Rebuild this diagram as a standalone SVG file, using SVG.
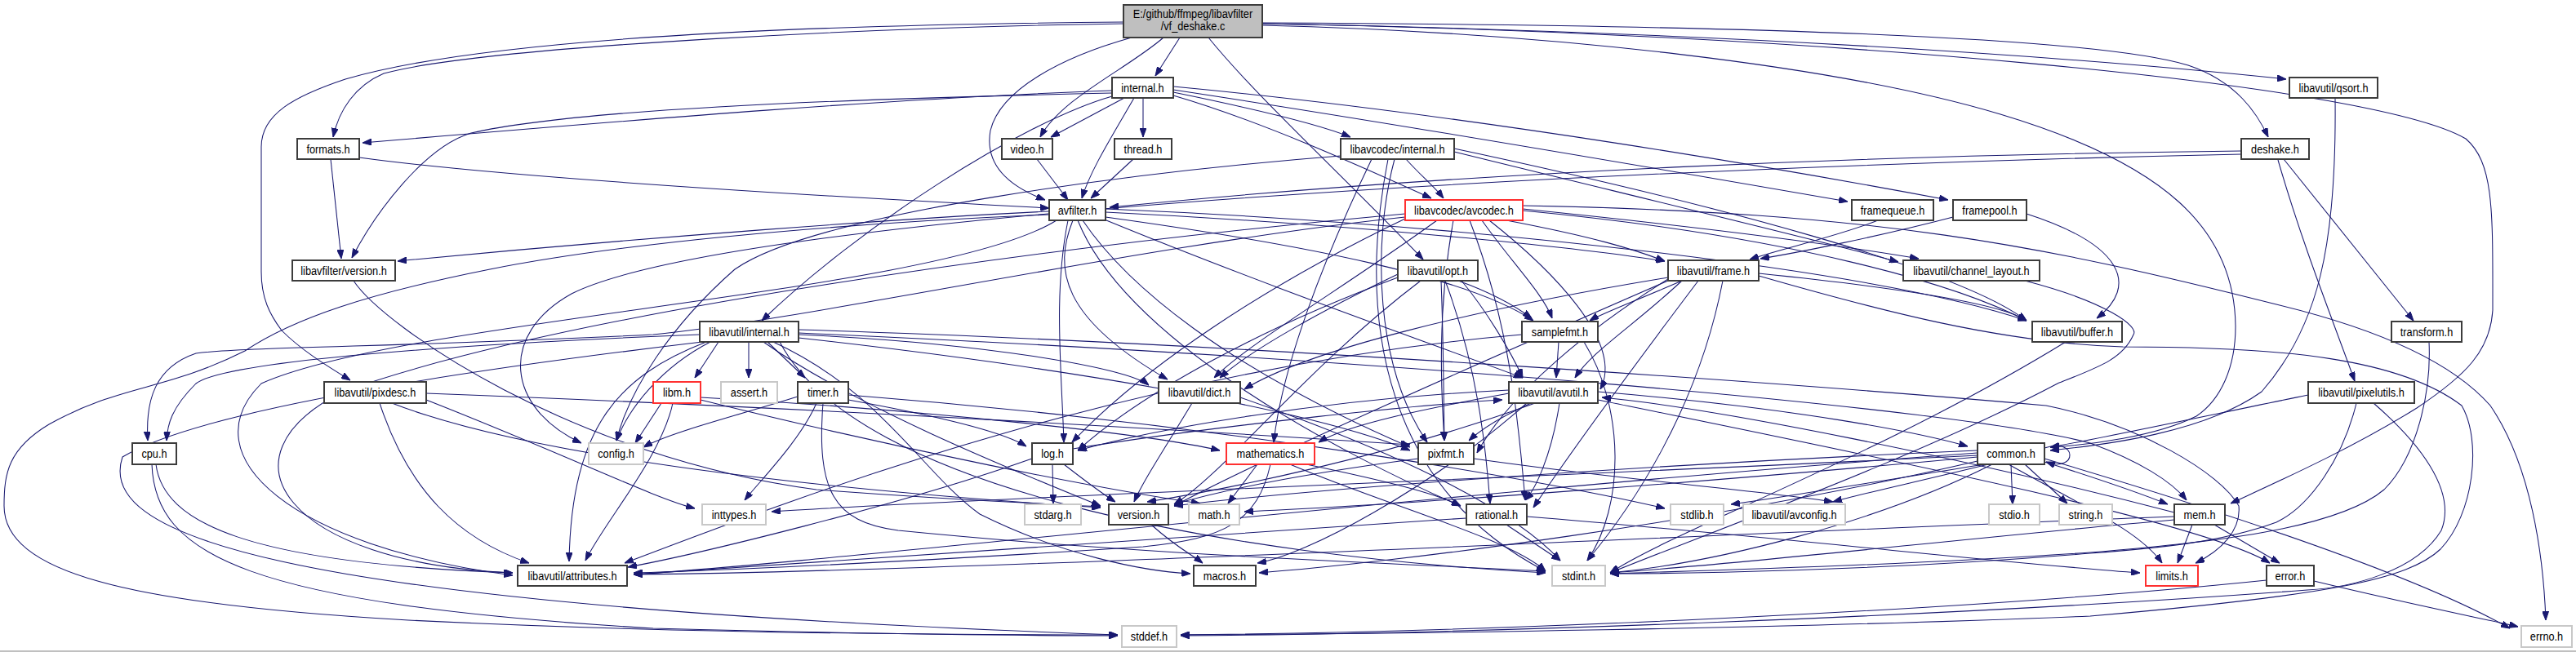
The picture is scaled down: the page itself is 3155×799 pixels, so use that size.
<svg xmlns="http://www.w3.org/2000/svg" width="3155" height="799" viewBox="0 0 3155 799">
<style>
.bg{fill:#ffffff}
.node rect{fill:#ffffff;stroke:#3c3c3c;stroke-width:2}
.node.gr rect{stroke:#c8c8c8}
.node.rd rect{stroke:#ff3030}
.node.root rect{fill:#bfbfbf;stroke:#3c3c3c}
.node text{font-family:"Liberation Sans",Arial,sans-serif;font-size:14.5px;fill:#000;text-anchor:middle}
.e{fill:none;stroke:#191970;stroke-width:1.05;marker-end:url(#ah)}
</style>
<defs>
<marker id="ah" viewBox="0 0 11 8" refX="11" refY="4" markerWidth="11" markerHeight="8" markerUnits="userSpaceOnUse" orient="auto">
<path d="M0,0 L11,4 L0,8 z" fill="#191970" stroke="#191970"/>
</marker>
</defs>
<rect class="bg" x="0" y="0" width="3155" height="799"/>
<line x1="0" y1="798" x2="3155" y2="798" stroke="#c0c0c0" stroke-width="2"/>
<g id="edges">
<path class="e" d="M1376,29 C1100,33 600,55 470,90 C435,105 415,135 408,168"/>
<path class="e" d="M1376,27 C1000,30 600,45 423,97 C360,118 320,140 320,180 L320,333 C320,365 330,385 345,405 C370,430 400,448 429,466"/>
<path class="e" d="M1425,46 C1380,85 1300,120 1274,168"/>
<path class="e" d="M1386,46 C1300,70 1225,110 1213,160 C1205,205 1240,230 1280,245"/>
<path class="e" d="M1445,46 L1415,93"/>
<path class="e" d="M1480,46 C1540,120 1650,220 1743,318"/>
<path class="e" d="M1546,29 C1900,35 2400,55 2800,97"/>
<path class="e" d="M1546,28 C2000,30 2550,40 2680,80 C2740,100 2765,140 2778,168"/>
<path class="e" d="M1546,31 C1900,40 2250,80 2450,140 C2650,200 2737,280 2738,400 C2738,450 2720,490 2690,510 C2640,535 2560,545 2511,548"/>
<path class="e" d="M1546,29 C2200,40 2900,100 3020,170 C3055,200 3053,260 3053,380 C3050,430 3020,460 2960,500 C2880,550 2790,590 2732,617"/>
<path class="e" d="M1362,111 C1100,120 800,145 444,175"/>
<path class="e" d="M1362,114 C1000,122 700,135 577,163 C520,180 460,260 431,316"/>
<path class="e" d="M1362,118 C1250,150 1050,280 933,393"/>
<path class="e" d="M1377,120 L1287,168"/>
<path class="e" d="M1400,120 L1400,168"/>
<path class="e" d="M1389,120 C1360,170 1335,210 1325,243"/>
<path class="e" d="M1437,113 C1520,130 1610,150 1654,168"/>
<path class="e" d="M1437,117 C1550,150 1680,210 1753,243"/>
<path class="e" d="M1437,110 C1700,150 2050,210 2263,247"/>
<path class="e" d="M1437,106 C1800,140 2200,210 2386,245"/>
<path class="e" d="M1270,195 L1308,245"/>
<path class="e" d="M1388,195 L1336,243"/>
<path class="e" d="M440,193 C600,215 900,235 1285,255"/>
<path class="e" d="M405,195 L418,317"/>
<path class="e" d="M2745,185 C2300,190 1800,210 1359,254"/>
<path class="e" d="M2745,189 C2000,205 900,260 700,360 C610,410 620,500 712,543"/>
<path class="e" d="M2797,195 L2956,393"/>
<path class="e" d="M2790,196 C2820,300 2860,400 2884,467"/>
<path class="e" d="M2860,120 C2862,300 2840,400 2770,480 C2700,530 2580,545 2511,552"/>
<path class="e" d="M1285,259 C1100,268 800,290 487,320"/>
<path class="e" d="M1285,263 C1000,275 750,300 600,330 C450,360 360,390 300,430 C200,480 150,470 60,520 C10,550 5,580 5,620 C5,700 150,740 500,760 C800,775 1100,778 1369,778"/>
<path class="e" d="M1294,270 C1150,360 500,390 320,470 C230,560 360,670 628,705"/>
<path class="e" d="M1355,270 C1550,350 1750,420 1865,463"/>
<path class="e" d="M1354,256 C1800,275 2300,330 2482,393"/>
<path class="e" d="M1314,270 C1290,330 1300,390 1430,465"/>
<path class="e" d="M1354,260 C1600,272 1900,298 2039,320"/>
<path class="e" d="M1308,270 C1290,360 1300,450 1303,542"/>
<path class="e" d="M1354,266 C1600,300 1800,340 1878,393"/>
<path class="e" d="M1326,270 C1380,350 1500,450 1727,548"/>
<path class="e" d="M1320,270 C1380,420 1650,560 1789,620"/>
<path class="e" d="M1722,195 C1740,215 1758,230 1768,243"/>
<path class="e" d="M1642,191 C1400,210 1000,260 900,330 C820,400 770,480 755,540"/>
<path class="e" d="M1700,195 C1660,400 1700,600 1893,700"/>
<path class="e" d="M1781,182 C2100,250 2400,330 2482,393"/>
<path class="e" d="M1781,186 C2000,240 2250,300 2325,321"/>
<path class="e" d="M1680,195 C1620,320 1570,450 1560,542"/>
<path class="e" d="M1708,195 C1680,300 1685,450 1748,542"/>
<path class="e" d="M1865,252 C2300,260 2500,300 2788,373 C2900,400 3000,440 3050,497 C3100,570 3115,680 3118,760"/>
<path class="e" d="M1815,270 C1850,320 1890,360 1901,390"/>
<path class="e" d="M1721,262 C1300,300 700,380 420,480 C260,560 350,690 628,702"/>
<path class="e" d="M1824,270 C1900,330 1990,420 1960,477"/>
<path class="e" d="M1865,258 C2200,290 2400,350 2482,393"/>
<path class="e" d="M1721,266 C1400,300 1000,390 800,410 C500,425 300,425 240,433 C190,450 178,490 181,540"/>
<path class="e" d="M1865,256 C2100,280 2250,300 2350,317"/>
<path class="e" d="M1760,270 C1650,350 1530,420 1487,463"/>
<path class="e" d="M1845,270 C1950,290 2000,305 2039,320"/>
<path class="e" d="M1721,268 C1550,350 1400,450 1313,542"/>
<path class="e" d="M1780,270 C1760,380 1765,480 1769,540"/>
<path class="e" d="M1800,270 C1850,400 1860,520 1868,613"/>
<path class="e" d="M1770,344 C1810,450 1820,550 1825,617"/>
<path class="e" d="M1790,344 C1820,380 1850,430 1865,463"/>
<path class="e" d="M1712,336 C1620,380 1530,430 1494,463"/>
<path class="e" d="M1712,340 C1550,400 1400,480 1320,552"/>
<path class="e" d="M1765,344 C1768,420 1768,480 1769,540"/>
<path class="e" d="M1786,344 C1830,360 1860,378 1876,390"/>
<path class="e" d="M1740,344 C1600,450 1500,580 1438,618"/>
<path class="e" d="M2154,338 C2300,380 2450,420 2600,425 C2800,425 2940,440 3015,497 C3040,540 3030,630 2989,673 C2950,710 2850,730 2560,755 C2200,770 1700,777 1446,778"/>
<path class="e" d="M2110,344 C2080,500 2000,620 1944,687"/>
<path class="e" d="M2060,344 C2000,400 1950,430 1929,463"/>
<path class="e" d="M2154,335 C2300,350 2450,370 2482,393"/>
<path class="e" d="M2043,340 C1800,380 1600,430 1524,477"/>
<path class="e" d="M2080,344 C2000,450 1920,560 1878,622"/>
<path class="e" d="M2060,344 C2000,370 1960,385 1947,393"/>
<path class="e" d="M2043,342 C1950,400 1850,480 1809,555"/>
<path class="e" d="M2043,344 C1800,450 1550,560 1438,620"/>
<path class="e" d="M2300,270 C2250,290 2180,305 2143,318"/>
<path class="e" d="M2392,266 C2300,290 2200,310 2156,317"/>
<path class="e" d="M2482,262 C2600,300 2620,350 2568,390"/>
<path class="e" d="M2480,344 C2580,370 2620,400 2613,410 C2600,440 2570,450 2520,470 C2350,560 2100,650 1972,702"/>
<path class="e" d="M978,404 C1500,420 2200,470 2506,497 C2620,520 2720,580 2742,620 C2745,650 2720,675 2689,690"/>
<path class="e" d="M955,419 C1050,600 1500,680 1893,702"/>
<path class="e" d="M860,419 C600,450 250,500 150,560 C120,650 300,740 1369,778"/>
<path class="e" d="M917,419 L917,463"/>
<path class="e" d="M870,419 C810,450 770,500 755,540"/>
<path class="e" d="M865,419 C760,460 700,520 697,688"/>
<path class="e" d="M940,419 L986,463"/>
<path class="e" d="M857,410 C600,420 280,440 240,470 C210,500 205,520 204,540"/>
<path class="e" d="M978,410 C1200,420 1380,450 1407,472"/>
<path class="e" d="M947,419 C1080,480 1130,580 1200,630 C1300,680 1400,700 1458,703"/>
<path class="e" d="M978,408 C1700,440 2400,500 2560,543 C2620,565 2660,590 2678,613"/>
<path class="e" d="M978,414 C1300,450 1600,500 1727,552"/>
<path class="e" d="M935,419 C1050,500 1250,580 1348,620"/>
<path class="e" d="M880,419 L851,463"/>
<path class="e" d="M977,486 C900,510 820,530 788,548"/>
<path class="e" d="M1000,494 C980,540 930,590 912,613"/>
<path class="e" d="M1008,494 C1000,600 1020,640 1100,650 C1400,680 1700,690 1893,700"/>
<path class="e" d="M1039,490 C1150,510 1230,530 1257,547"/>
<path class="e" d="M1039,484 C1500,520 1900,590 2039,623"/>
<path class="e" d="M810,494 L778,543"/>
<path class="e" d="M824,494 C810,560 740,640 717,687"/>
<path class="e" d="M858,487 C1100,500 1400,530 1494,552"/>
<path class="e" d="M858,490 C1100,550 1350,600 1470,617"/>
<path class="e" d="M522,490 C700,560 800,610 851,623"/>
<path class="e" d="M465,494 C500,600 560,660 648,690"/>
<path class="e" d="M522,482 C1000,500 1500,530 1727,545"/>
<path class="e" d="M480,494 C650,560 1000,600 1348,622"/>
<path class="e" d="M433,344 C470,400 700,560 1000,600 C1200,615 1300,618 1348,621"/>
<path class="e" d="M191,569 C200,640 300,690 628,702"/>
<path class="e" d="M186,569 C190,680 300,740 800,770 C1100,778 1300,779 1369,779"/>
<path class="e" d="M1940,419 C1990,500 1990,620 1944,687"/>
<path class="e" d="M1909,419 L1906,463"/>
<path class="e" d="M1864,410 C1400,450 1000,600 765,690"/>
<path class="e" d="M2530,419 C2300,560 2050,650 1972,702"/>
<path class="e" d="M2975,419 C2978,480 2960,560 2920,600 C2860,650 2700,665 2560,677 C2300,695 2050,700 1972,703"/>
<path class="e" d="M1519,487 C1700,550 1850,620 1911,687"/>
<path class="e" d="M1460,494 C1420,560 1400,590 1389,615"/>
<path class="e" d="M1957,480 C2200,500 2350,530 2410,547"/>
<path class="e" d="M1957,490 C2300,560 2700,640 2780,690"/>
<path class="e" d="M1910,494 C1900,560 1880,600 1868,613"/>
<path class="e" d="M1880,494 C1700,560 1500,600 1405,615"/>
<path class="e" d="M1870,494 C1750,600 1600,680 1540,690"/>
<path class="e" d="M1848,482 C1750,500 1650,520 1615,542"/>
<path class="e" d="M1848,478 C1600,490 1400,530 1320,552"/>
<path class="e" d="M1875,494 C1840,510 1815,525 1799,540"/>
<path class="e" d="M2907,494 C2960,540 3010,600 2990,650 C2960,700 2880,720 2826,723 C2400,755 1800,777 1446,779"/>
<path class="e" d="M2886,494 C2870,560 2830,620 2788,640 C2720,665 2640,672 2560,678 C2300,700 2050,703 1972,703"/>
<path class="e" d="M2827,484 C2700,510 2560,540 2511,548"/>
<path class="e" d="M1289,569 L1290,617"/>
<path class="e" d="M1314,550 C1500,520 1750,495 1840,490"/>
<path class="e" d="M1264,562 C1100,620 850,680 769,695"/>
<path class="e" d="M1303,569 C1330,590 1350,605 1366,615"/>
<path class="e" d="M1580,569 C1700,620 1850,660 1893,700"/>
<path class="e" d="M1540,569 L1504,617"/>
<path class="e" d="M1556,569 C1540,640 1500,660 1400,670 C1100,690 850,700 776,702"/>
<path class="e" d="M1600,569 C1700,590 1760,605 1789,620"/>
<path class="e" d="M1805,562 C2000,590 2150,600 2245,615"/>
<path class="e" d="M1737,562 C1600,580 1500,600 1438,618"/>
<path class="e" d="M2504,562 C2700,620 2950,700 3074,770"/>
<path class="e" d="M2422,558 C2000,580 1200,610 945,627"/>
<path class="e" d="M2460,569 C2550,620 2620,650 2648,690"/>
<path class="e" d="M2422,560 C2100,590 1700,620 1524,627"/>
<path class="e" d="M2440,569 C2300,640 2100,690 1972,702"/>
<path class="e" d="M2463,569 L2465,618"/>
<path class="e" d="M2430,569 C2300,590 2180,610 2120,618"/>
<path class="e" d="M2480,569 L2532,617"/>
<path class="e" d="M2422,555 C1800,600 1000,690 776,704"/>
<path class="e" d="M2422,565 C2100,640 1700,690 1542,702"/>
<path class="e" d="M2422,552 C2000,570 1600,600 1438,620"/>
<path class="e" d="M2435,569 C2350,590 2280,605 2245,615"/>
<path class="e" d="M2504,566 C2580,590 2630,608 2655,618"/>
<path class="e" d="M2504,549 C2545,535 2545,580 2506,566"/>
<path class="e" d="M2685,643 L2667,690"/>
<path class="e" d="M2663,637 C2400,660 2150,690 1972,702"/>
<path class="e" d="M2663,633 C2200,650 1200,700 776,704"/>
<path class="e" d="M2712,643 L2792,690"/>
<path class="e" d="M2663,628 C2400,560 2100,500 1962,487"/>
<path class="e" d="M1845,643 L1911,687"/>
<path class="e" d="M1870,633 C2200,660 2450,690 2621,702"/>
<path class="e" d="M1796,635 C1400,660 1000,690 776,704"/>
<path class="e" d="M1410,643 C1440,670 1460,680 1473,690"/>
<path class="e" d="M2834,712 C2950,740 3050,760 3084,768"/>
<path class="e" d="M2776,711 C2400,750 1800,775 1446,778"/>
</g>
<g id="n_root" class="node root"><rect x="1376" y="6" width="170" height="40"/><text transform="translate(1461 22) scale(0.88 1)">E:/github/ffmpeg/libavfilter</text><text transform="translate(1461 37) scale(0.88 1)">/vf_deshake.c</text></g>
<g id="n_internal" class="node"><rect x="1362" y="95" width="75" height="25"/><text transform="translate(1399.5 112.5) scale(0.88 1)">internal.h</text></g>
<g id="n_qsort" class="node"><rect x="2804" y="95" width="108" height="25"/><text transform="translate(2858 112.5) scale(0.88 1)">libavutil/qsort.h</text></g>
<g id="n_formats" class="node"><rect x="364" y="170" width="76" height="25"/><text transform="translate(402 187.5) scale(0.88 1)">formats.h</text></g>
<g id="n_video" class="node"><rect x="1227" y="170" width="62" height="25"/><text transform="translate(1258 187.5) scale(0.88 1)">video.h</text></g>
<g id="n_thread" class="node"><rect x="1365" y="170" width="70" height="25"/><text transform="translate(1400 187.5) scale(0.88 1)">thread.h</text></g>
<g id="n_lavc_internal" class="node"><rect x="1642" y="170" width="139" height="25"/><text transform="translate(1711.5 187.5) scale(0.88 1)">libavcodec/internal.h</text></g>
<g id="n_deshake" class="node"><rect x="2745" y="170" width="83" height="25"/><text transform="translate(2786.5 187.5) scale(0.88 1)">deshake.h</text></g>
<g id="n_avfilter" class="node"><rect x="1285" y="245" width="69" height="25"/><text transform="translate(1319.5 262.5) scale(0.88 1)">avfilter.h</text></g>
<g id="n_avcodec" class="node rd"><rect x="1721" y="245" width="144" height="25"/><text transform="translate(1793 262.5) scale(0.88 1)">libavcodec/avcodec.h</text></g>
<g id="n_framequeue" class="node"><rect x="2268" y="245" width="100" height="25"/><text transform="translate(2318 262.5) scale(0.88 1)">framequeue.h</text></g>
<g id="n_framepool" class="node"><rect x="2392" y="245" width="90" height="25"/><text transform="translate(2437 262.5) scale(0.88 1)">framepool.h</text></g>
<g id="n_lavfi_version" class="node"><rect x="358" y="319" width="126" height="25"/><text transform="translate(421 336.5) scale(0.88 1)">libavfilter/version.h</text></g>
<g id="n_opt" class="node"><rect x="1712" y="319" width="98" height="25"/><text transform="translate(1761 336.5) scale(0.88 1)">libavutil/opt.h</text></g>
<g id="n_frame" class="node"><rect x="2043" y="319" width="111" height="25"/><text transform="translate(2098.5 336.5) scale(0.88 1)">libavutil/frame.h</text></g>
<g id="n_channel_layout" class="node"><rect x="2331" y="319" width="167" height="25"/><text transform="translate(2414.5 336.5) scale(0.88 1)">libavutil/channel_layout.h</text></g>
<g id="n_lavu_internal" class="node"><rect x="857" y="394" width="121" height="25"/><text transform="translate(917.5 411.5) scale(0.88 1)">libavutil/internal.h</text></g>
<g id="n_samplefmt" class="node"><rect x="1864" y="394" width="93" height="25"/><text transform="translate(1910.5 411.5) scale(0.88 1)">samplefmt.h</text></g>
<g id="n_buffer" class="node"><rect x="2489" y="394" width="110" height="25"/><text transform="translate(2544 411.5) scale(0.88 1)">libavutil/buffer.h</text></g>
<g id="n_transform" class="node"><rect x="2929" y="394" width="86" height="25"/><text transform="translate(2972 411.5) scale(0.88 1)">transform.h</text></g>
<g id="n_pixdesc" class="node"><rect x="397" y="468" width="125" height="26"/><text transform="translate(459.5 486) scale(0.88 1)">libavutil/pixdesc.h</text></g>
<g id="n_libm" class="node rd"><rect x="800" y="468" width="58" height="26"/><text transform="translate(829 486) scale(0.88 1)">libm.h</text></g>
<g id="n_assert" class="node gr"><rect x="883" y="468" width="69" height="26"/><text transform="translate(917.5 486) scale(0.88 1)">assert.h</text></g>
<g id="n_timer" class="node"><rect x="977" y="468" width="62" height="26"/><text transform="translate(1008 486) scale(0.88 1)">timer.h</text></g>
<g id="n_dict" class="node"><rect x="1419" y="468" width="100" height="26"/><text transform="translate(1469 486) scale(0.88 1)">libavutil/dict.h</text></g>
<g id="n_avutil" class="node"><rect x="1848" y="468" width="109" height="26"/><text transform="translate(1902.5 486) scale(0.88 1)">libavutil/avutil.h</text></g>
<g id="n_pixelutils" class="node"><rect x="2827" y="468" width="130" height="26"/><text transform="translate(2892 486) scale(0.88 1)">libavutil/pixelutils.h</text></g>
<g id="n_cpu" class="node"><rect x="162" y="543" width="54" height="26"/><text transform="translate(189 561) scale(0.88 1)">cpu.h</text></g>
<g id="n_config" class="node gr"><rect x="721" y="543" width="67" height="26"/><text transform="translate(754.5 561) scale(0.88 1)">config.h</text></g>
<g id="n_log" class="node"><rect x="1264" y="543" width="50" height="26"/><text transform="translate(1289 561) scale(0.88 1)">log.h</text></g>
<g id="n_mathematics" class="node rd"><rect x="1502" y="543" width="108" height="26"/><text transform="translate(1556 561) scale(0.88 1)">mathematics.h</text></g>
<g id="n_pixfmt" class="node"><rect x="1737" y="543" width="68" height="26"/><text transform="translate(1771 561) scale(0.88 1)">pixfmt.h</text></g>
<g id="n_common" class="node"><rect x="2422" y="543" width="82" height="26"/><text transform="translate(2463 561) scale(0.88 1)">common.h</text></g>
<g id="n_inttypes" class="node gr"><rect x="860" y="618" width="78" height="25"/><text transform="translate(899 635.5) scale(0.88 1)">inttypes.h</text></g>
<g id="n_stdarg" class="node gr"><rect x="1255" y="618" width="69" height="25"/><text transform="translate(1289.5 635.5) scale(0.88 1)">stdarg.h</text></g>
<g id="n_version" class="node"><rect x="1358" y="618" width="73" height="25"/><text transform="translate(1394.5 635.5) scale(0.88 1)">version.h</text></g>
<g id="n_math" class="node gr"><rect x="1456" y="618" width="62" height="25"/><text transform="translate(1487 635.5) scale(0.88 1)">math.h</text></g>
<g id="n_rational" class="node"><rect x="1796" y="618" width="74" height="25"/><text transform="translate(1833 635.5) scale(0.88 1)">rational.h</text></g>
<g id="n_stdlib" class="node gr"><rect x="2046" y="618" width="65" height="25"/><text transform="translate(2078.5 635.5) scale(0.88 1)">stdlib.h</text></g>
<g id="n_avconfig" class="node gr"><rect x="2135" y="618" width="125" height="25"/><text transform="translate(2197.5 635.5) scale(0.88 1)">libavutil/avconfig.h</text></g>
<g id="n_stdio" class="node gr"><rect x="2436" y="618" width="62" height="25"/><text transform="translate(2467 635.5) scale(0.88 1)">stdio.h</text></g>
<g id="n_string" class="node gr"><rect x="2522" y="618" width="65" height="25"/><text transform="translate(2554.5 635.5) scale(0.88 1)">string.h</text></g>
<g id="n_mem" class="node"><rect x="2663" y="618" width="62" height="25"/><text transform="translate(2694 635.5) scale(0.88 1)">mem.h</text></g>
<g id="n_attributes" class="node"><rect x="634" y="693" width="134" height="25"/><text transform="translate(701 710.5) scale(0.88 1)">libavutil/attributes.h</text></g>
<g id="n_macros" class="node"><rect x="1462" y="693" width="76" height="25"/><text transform="translate(1500 710.5) scale(0.88 1)">macros.h</text></g>
<g id="n_stdint" class="node gr"><rect x="1901" y="693" width="65" height="25"/><text transform="translate(1933.5 710.5) scale(0.88 1)">stdint.h</text></g>
<g id="n_limits" class="node rd"><rect x="2628" y="693" width="64" height="25"/><text transform="translate(2660 710.5) scale(0.88 1)">limits.h</text></g>
<g id="n_error" class="node"><rect x="2776" y="693" width="58" height="25"/><text transform="translate(2805 710.5) scale(0.88 1)">error.h</text></g>
<g id="n_stddef" class="node gr"><rect x="1374" y="767" width="67" height="26"/><text transform="translate(1407.5 785) scale(0.88 1)">stddef.h</text></g>
<g id="n_errno" class="node gr"><rect x="3088" y="767" width="62" height="26"/><text transform="translate(3119 785) scale(0.88 1)">errno.h</text></g>
</svg>
